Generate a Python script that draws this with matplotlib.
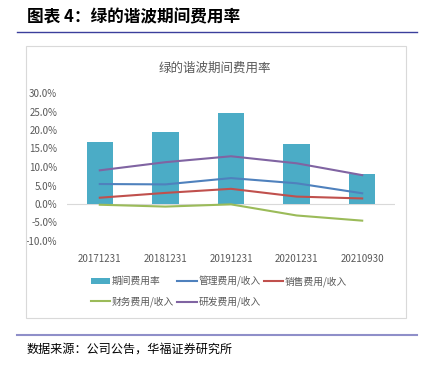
import matplotlib.pyplot as plt
from matplotlib.patches import Rectangle
from matplotlib.lines import Line2D
import numpy as np

plt.rcParams['font.family'] = ['Noto Sans CJK SC', 'DejaVu Sans']

dates = ["20171231", "20181231", "20191231", "20201231", "20210930"]
period_rate = [16.7, 19.4, 24.5, 16.3, 8.0]
admin_rate = [5.4, 5.3, 7.0, 5.6, 2.9]
sales_rate = [1.7, 3.0, 4.1, 2.0, 1.5]
finance_rate = [-0.2, -0.7, -0.1, -3.1, -4.5]
rd_rate = [9.1, 11.3, 12.9, 11.0, 7.8]

W, H = 421, 368
fig = plt.figure(figsize=(W / 100, H / 100), dpi=100)

def fx(px):
    return px / W

def fy(py):
    return 1 - py / H

gray = '#595959'

# header
fig.text(fx(27), fy(17), "图表 4：绿的谐波期间费用率", fontsize=12, fontweight='bold',
         va='center', ha='left', color='black')
fig.add_artist(Line2D([fx(17), fx(417)], [fy(32), fy(32)], color='#3b3f9c', lw=1.0))

# chart frame
fig.add_artist(Rectangle((fx(26), fy(318)), fx(406) - fx(26), fy(46) - fy(318),
                         fill=False, edgecolor='#d9d9d9', lw=0.8))
fig.text(fx(215), fy(68), "绿的谐波期间费用率", fontsize=9, color=gray, ha='center', va='center')

ax = fig.add_axes([fx(67), fy(241), fx(395) - fx(67), fy(93) - fy(241)])
x = np.arange(len(dates))
bars = ax.bar(x, period_rate, width=0.4, color='#4bacc6', label="期间费用率", zorder=2)
l1, = ax.plot(x, admin_rate, color='#4f81bd', lw=1.5, label="管理费用/收入", zorder=3)
l2, = ax.plot(x, sales_rate, color='#c0504d', lw=1.5, label="销售费用/收入", zorder=3)
l3, = ax.plot(x, finance_rate, color='#9bbb59', lw=1.5, label="财务费用/收入", zorder=3)
l4, = ax.plot(x, rd_rate, color='#8064a2', lw=1.5, label="研发费用/收入", zorder=3)
ax.axhline(0, color='#d9d9d9', lw=0.8, zorder=1)

ax.set_xlim(-0.5, 4.5)
ax.set_ylim(-10, 30)
ax.set_yticks(np.arange(-10, 31, 5))
ax.set_yticklabels([f"{v:.1f}%" for v in np.arange(-10, 31, 5)])
ax.set_xticks(x)
ax.set_xticklabels(dates)
ax.tick_params(axis='both', length=0, labelsize=7, colors=gray)
ax.tick_params(axis='y', pad=7)
ax.tick_params(axis='x', pad=9)
for s in ax.spines.values():
    s.set_visible(False)
ax.patch.set_alpha(0)

handles = [bars, l3, l1, l4, l2]
labels = [h.get_label() for h in handles]
fig.legend(handles, labels, ncol=3, loc='center', bbox_to_anchor=(fx(219), fy(291.5)),
           frameon=False, fontsize=7, labelcolor=gray, handlelength=2.0,
           handleheight=0.6, handletextpad=0.2, columnspacing=0.3, labelspacing=1.0)

# footer
fig.add_artist(Line2D([fx(17), fx(417)], [fy(335), fy(335)], color='#8f8fc9', lw=1.5))
fig.text(fx(27), fy(349), "数据来源：公司公告，华福证券研究所", fontsize=8.7, color='black',
         ha='left', va='center')

fig.savefig("out.png", dpi=100)
